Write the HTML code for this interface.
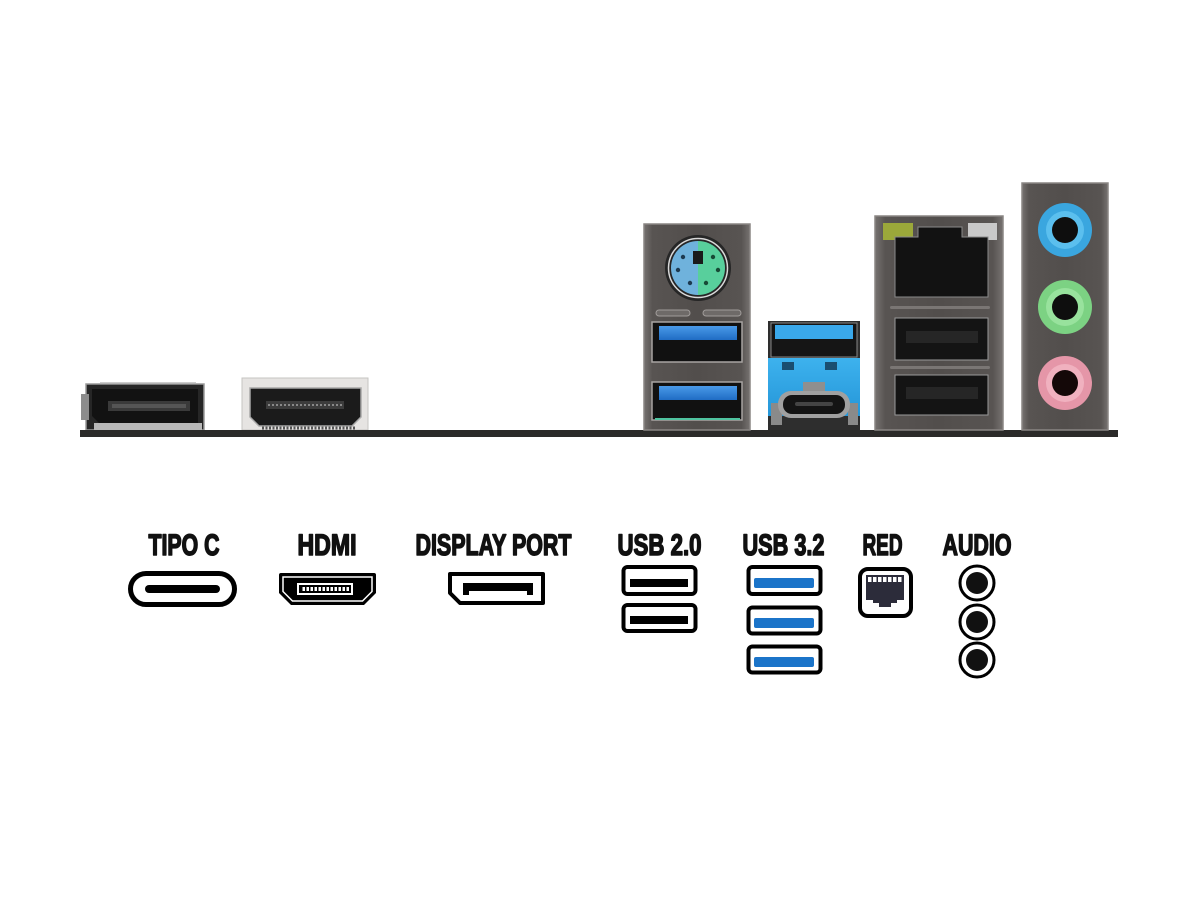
<!DOCTYPE html>
<html>
<head>
<meta charset="utf-8">
<style>
html,body{margin:0;padding:0;background:#fff;}
svg{display:block;}
text{font-family:"Liberation Sans",Arial,sans-serif;font-weight:bold;fill:#111;stroke:#111;stroke-width:1.6px;stroke-linejoin:round;}
</style>
</head>
<body>
<svg width="1200" height="900" viewBox="0 0 1200 900" xmlns="http://www.w3.org/2000/svg">
<defs>
  <linearGradient id="metal" x1="0" y1="0" x2="1" y2="0">
    <stop offset="0" stop-color="#767270"/>
    <stop offset="0.08" stop-color="#585452"/>
    <stop offset="0.5" stop-color="#524e4c"/>
    <stop offset="0.92" stop-color="#585452"/>
    <stop offset="1" stop-color="#767270"/>
  </linearGradient>
  <linearGradient id="blueTongue" x1="0" y1="0" x2="0" y2="1">
    <stop offset="0" stop-color="#4a9ae8"/>
    <stop offset="1" stop-color="#1f6cc4"/>
  </linearGradient>
  <linearGradient id="cyan" x1="0" y1="0" x2="0" y2="1">
    <stop offset="0" stop-color="#3db2ee"/>
    <stop offset="1" stop-color="#2596d8"/>
  </linearGradient>
</defs>

<!-- ===== Top: back panel ===== -->

<!-- DisplayPort connector -->
<rect x="86" y="384" width="118" height="46" fill="#262626" stroke="#9a9a9a" stroke-width="1.5"/>
<line x1="100" y1="383" x2="196" y2="383" stroke="#bbb" stroke-width="1.5"/>
<rect x="81" y="394" width="8" height="26" fill="#8c8c8c"/>
<path d="M92,389 H198 V424 H100 L92,416 Z" fill="#121212"/>
<path d="M108,401 H190 V411 H108 Z" fill="#3a3a3a"/>
<rect x="112" y="404" width="74" height="4" fill="#555"/>
<rect x="94" y="423" width="108" height="7" fill="#b8b8b8"/>

<!-- HDMI connector -->
<rect x="242" y="378" width="126" height="52" fill="#e6e4e2" stroke="#c6c4c2" stroke-width="1"/>
<path d="M250,388 H361 V417 L352,426 H259 L250,417 Z" fill="#1b1b1b" stroke="#a8a8a8" stroke-width="1.5"/>
<rect x="266" y="401" width="78" height="8" fill="#3c3c3c"/>
<line x1="268" y1="405" x2="342" y2="405" stroke="#888" stroke-width="2" stroke-dasharray="2,2"/>
<line x1="262" y1="428" x2="355" y2="428" stroke="#555" stroke-width="3" stroke-dasharray="2,1.5"/>

<!-- Base bar -->
<rect x="80" y="430" width="1038" height="7" fill="#2b2a29"/>

<!-- PS/2 + USB stack -->
<rect x="644" y="224" width="106" height="206" fill="url(#metal)" stroke="#8a8684" stroke-width="1.5"/>
<circle cx="698" cy="268" r="33" fill="#262626"/>
<circle cx="698" cy="268" r="29.5" fill="none" stroke="#d8d8d8" stroke-width="1.5"/>
<path d="M698,241 A27,27 0 0 0 698,295 Z" fill="#6fb2dc"/>
<path d="M698,241 A27,27 0 0 1 698,295 Z" fill="#58cf9c"/>
<rect x="693" y="251" width="10" height="13" fill="#1a1a1a"/>
<g fill="#1d3a50">
  <circle cx="683" cy="257" r="2.2"/><circle cx="678" cy="270" r="2.2"/><circle cx="690" cy="283" r="2.2"/>
</g>
<g fill="#184a36">
  <circle cx="713" cy="257" r="2.2"/><circle cx="718" cy="270" r="2.2"/><circle cx="706" cy="283" r="2.2"/>
</g>
<rect x="656" y="310" width="34" height="6" rx="3" fill="#6e6a68" stroke="#a09c9a" stroke-width="1"/>
<rect x="703" y="310" width="38" height="6" rx="3" fill="#6e6a68" stroke="#a09c9a" stroke-width="1"/>
<rect x="652" y="322" width="90" height="40" fill="#111" stroke="#a8a4a2" stroke-width="1.5"/>
<rect x="659" y="326" width="78" height="14" fill="url(#blueTongue)"/>
<rect x="652" y="382" width="90" height="38" fill="#111" stroke="#a8a4a2" stroke-width="1.5"/>
<rect x="659" y="386" width="78" height="14" fill="url(#blueTongue)"/>
<line x1="655" y1="419" x2="740" y2="419" stroke="#4fc3a0" stroke-width="2"/>

<!-- USB 3.2 + Type-C stack -->
<rect x="768" y="321" width="92" height="109" fill="#2e2e2e"/>
<rect x="771" y="323" width="86" height="34" fill="#151515" stroke="#888" stroke-width="1"/>
<rect x="775" y="325" width="78" height="14" fill="#3aa8ea"/>
<rect x="768" y="358" width="92" height="58" fill="url(#cyan)"/>
<rect x="782" y="362" width="12" height="8" fill="#1a4e70"/>
<rect x="825" y="362" width="12" height="8" fill="#1a4e70"/>
<rect x="803" y="382" width="22" height="9" fill="#8f8f8f"/>
<rect x="771" y="403" width="11" height="22" fill="#8a8a8a"/>
<rect x="848" y="403" width="10" height="22" fill="#8a8a8a"/>
<rect x="778" y="391" width="72" height="27" rx="13" fill="#a0a0a0"/>
<rect x="783" y="395" width="62" height="19" rx="9" fill="#141414"/>
<rect x="795" y="402" width="38" height="4" rx="2" fill="#444"/>

<!-- LAN + USB stack -->
<rect x="875" y="216" width="128" height="214" fill="url(#metal)" stroke="#8a8684" stroke-width="1.5"/>
<rect x="883" y="223" width="30" height="17" fill="#9ba83a"/>
<rect x="968" y="223" width="29" height="17" fill="#c9c9c9"/>
<path d="M895,237 H918 V227 H962 V237 H988 V297 H895 Z" fill="#121212" stroke="#8a8a8a" stroke-width="1"/>
<rect x="890" y="306" width="100" height="3" rx="1.5" fill="#7a7674"/>
<rect x="895" y="318" width="93" height="42" fill="#141414" stroke="#9a9a9a" stroke-width="1"/>
<rect x="906" y="331" width="72" height="12" fill="#262626"/>
<rect x="890" y="366" width="100" height="3" rx="1.5" fill="#7a7674"/>
<rect x="895" y="375" width="93" height="40" fill="#141414" stroke="#9a9a9a" stroke-width="1"/>
<rect x="906" y="387" width="72" height="12" fill="#262626"/>

<!-- Audio stack -->
<rect x="1022" y="183" width="86" height="247" fill="url(#metal)" stroke="#8a8684" stroke-width="1.5"/>
<circle cx="1065" cy="230" r="27" fill="#3aa6df"/>
<circle cx="1065" cy="230" r="19" fill="#5bbfee"/>
<circle cx="1065" cy="230" r="13" fill="#0e0e0e"/>
<circle cx="1065" cy="307" r="27" fill="#7cd283"/>
<circle cx="1065" cy="307" r="19" fill="#98e29d"/>
<circle cx="1065" cy="307" r="13" fill="#0e0e0e"/>
<circle cx="1065" cy="383" r="27" fill="#e596a8"/>
<circle cx="1065" cy="383" r="19" fill="#f0b1bf"/>
<circle cx="1065" cy="383" r="13" fill="#140808"/>

<!-- ===== Labels ===== -->
<text x="148.5" y="555" font-size="30" textLength="71" lengthAdjust="spacingAndGlyphs">TIPO C</text>
<text x="297.5" y="555" font-size="30" textLength="59" lengthAdjust="spacingAndGlyphs">HDMI</text>
<text x="415.5" y="555" font-size="30" textLength="156" lengthAdjust="spacingAndGlyphs">DISPLAY PORT</text>
<text x="617.5" y="555" font-size="30" textLength="84" lengthAdjust="spacingAndGlyphs">USB 2.0</text>
<text x="742.5" y="555" font-size="30" textLength="82" lengthAdjust="spacingAndGlyphs">USB 3.2</text>
<text x="862.5" y="555" font-size="30" textLength="40" lengthAdjust="spacingAndGlyphs">RED</text>
<text x="942.5" y="555" font-size="30" textLength="69" lengthAdjust="spacingAndGlyphs">AUDIO</text>

<!-- ===== Icons ===== -->
<!-- Type C -->
<rect x="130.5" y="573.5" width="104" height="31" rx="15.5" fill="#fff" stroke="#000" stroke-width="5"/>
<rect x="145" y="585" width="75" height="8" rx="4" fill="#000"/>

<!-- HDMI -->
<path d="M281,573 H374 Q376,573 376,575 V593 L364,605 H291 L279,593 V575 Q279,573 281,573 Z" fill="#000"/>
<path d="M283,577 H372 V591.5 L362.5,601 H292.5 L283,591.5 Z" fill="none" stroke="#fff" stroke-width="1.5"/>
<rect x="297" y="583" width="56" height="12" fill="#fff"/>
<rect x="299" y="585" width="52" height="8" fill="#000"/>
<rect x="301" y="587" width="48" height="4" fill="#fff"/>
<line x1="301" y1="589" x2="349" y2="589" stroke="#000" stroke-width="4" stroke-dasharray="1.5,2.5"/>

<!-- DisplayPort -->
<path d="M450,574 H543 V603 H460 L450,593 Z" fill="#fff" stroke="#000" stroke-width="4" stroke-linejoin="round"/>
<path d="M463,583 H533 V595 H527 V591 H469 V595 H463 Z" fill="#000"/>

<!-- USB 2.0 -->
<rect x="623.5" y="567" width="72" height="27" rx="4" fill="#fff" stroke="#000" stroke-width="4"/>
<rect x="630" y="579" width="58" height="8" fill="#000"/>
<rect x="623.5" y="605" width="72" height="26" rx="4" fill="#fff" stroke="#000" stroke-width="4"/>
<rect x="630" y="616" width="58" height="8" fill="#000"/>

<!-- USB 3.2 -->
<rect x="748.5" y="567" width="72" height="27" rx="4" fill="#fff" stroke="#000" stroke-width="4"/>
<rect x="754" y="578" width="60" height="10" rx="2" fill="#1b74c9"/>
<rect x="748.5" y="607.5" width="72" height="26" rx="4" fill="#fff" stroke="#000" stroke-width="4"/>
<rect x="754" y="618" width="60" height="10" rx="2" fill="#1b74c9"/>
<rect x="748.5" y="646.5" width="72" height="26" rx="4" fill="#fff" stroke="#000" stroke-width="4"/>
<rect x="754" y="657" width="60" height="10" rx="2" fill="#1b74c9"/>

<!-- RED (RJ45) -->
<rect x="860" y="569" width="51" height="47" rx="8" fill="#fff" stroke="#000" stroke-width="4"/>
<path d="M866,575 H904 V600 H897 V603 H891 V607 H879 V603 H873 V600 H866 Z" fill="#2c2c3a"/>
<line x1="868" y1="579.5" x2="902" y2="579.5" stroke="#fff" stroke-width="5" stroke-dasharray="3.5,1.5"/>

<!-- AUDIO -->
<circle cx="977" cy="583" r="17" fill="#fff" stroke="#000" stroke-width="3"/>
<circle cx="977" cy="583" r="11" fill="#111"/>
<circle cx="977" cy="622" r="17" fill="#fff" stroke="#000" stroke-width="3"/>
<circle cx="977" cy="622" r="11" fill="#111"/>
<circle cx="977" cy="660" r="17" fill="#fff" stroke="#000" stroke-width="3"/>
<circle cx="977" cy="660" r="11" fill="#111"/>
</svg>
</body>
</html>
